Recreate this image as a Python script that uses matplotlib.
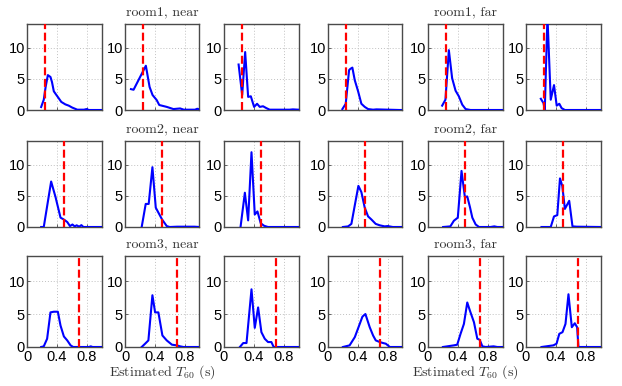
import matplotlib
matplotlib.use("Agg")
import matplotlib.pyplot as plt

plt.rcParams['mathtext.fontset'] = 'cm'
plt.rcParams['font.family'] = ['Liberation Sans', 'DejaVu Sans']

# true T60 per room (red dashed line)
T60_TRUE = [0.245, 0.5, 0.7]

# row titles: (text, column under which it is centred)
row_titles = [["room1, near", "room1, far"],
              ["room2, near", "room2, far"],
              ["room3, near", "room3, far"]]

# --- histogram curves: x (s), y (density) ---
# room1
r1_x = [[0.19, 0.225, 0.25, 0.28, 0.315, 0.335, 0.36, 0.395, 0.425, 0.46, 0.515, 0.56, 0.605, 0.675, 0.765, 0.8, 0.83, 1.0],
        [0.08, 0.115, 0.28, 0.33, 0.37, 0.425, 0.46, 0.56, 0.65, 0.74, 0.79, 0.94, 0.97, 1.0],
        [0.196, 0.244, 0.284, 0.324, 0.36, 0.404, 0.444, 0.48, 0.524, 0.569, 0.613, 0.88, 0.924, 1.0],
        [0.193, 0.238, 0.283, 0.30, 0.327, 0.359, 0.404, 0.448, 0.493, 0.538, 0.605, 0.65, 0.96, 1.0],
        [0.19, 0.234, 0.28, 0.324, 0.37, 0.414, 0.46, 0.505, 0.57, 1.0],
        [0.199, 0.235, 0.252, 0.288, 0.332, 0.376, 0.412, 0.447, 0.478, 0.522, 1.0]]
r1_y = [[0.48, 1.65, 3.7, 5.6, 5.3, 4.5, 3.0, 2.4, 1.9, 1.3, 0.9, 0.7, 0.4, 0.05, 0.05, 0.15, 0.0, 0.0],
        [3.35, 3.25, 7.1, 3.7, 2.4, 1.6, 0.8, 0.5, 0.15, 0.25, 0.05, 0.05, 0.2, 0.1],
        [7.3, 2.4, 9.3, 2.1, 2.2, 0.5, 1.0, 0.5, 0.6, 0.3, 0.05, 0.05, 0.1, 0.05],
        [0.15, 1.0, 6.4, 6.6, 6.8, 4.8, 3.0, 1.0, 0.5, 0.15, 0.05, 0.1, 0.0, 0.0],
        [0.7, 1.65, 9.6, 5.1, 3.1, 2.2, 0.85, 0.15, 0.0, 0.0],
        [1.8, 1.1, 0.0, 15.0, 1.65, 4.0, 0.7, 1.0, 0.3, 0.0, 0.0]]
# room2
r2_x = [[0.19, 0.225, 0.324, 0.383, 0.45, 0.495, 0.54, 0.577, 0.61, 0.64, 0.667, 0.70, 0.73, 0.757, 1.0],
        [0.224, 0.278, 0.318, 0.368, 0.413, 0.498, 0.56, 0.60, 0.70, 0.93, 1.0],
        [0.222, 0.28, 0.324, 0.369, 0.413, 0.449, 0.493, 0.538, 0.59, 1.0],
        [0.2, 0.27, 0.314, 0.363, 0.408, 0.448, 0.493, 0.538, 0.583, 0.64, 0.695, 0.76, 0.80, 0.87, 1.0],
        [0.203, 0.30, 0.347, 0.40, 0.45, 0.495, 0.527, 0.563, 0.595, 0.64, 0.685, 0.84, 0.89, 0.93, 1.0],
        [0.208, 0.332, 0.376, 0.42, 0.456, 0.487, 0.522, 0.58, 0.624, 0.68, 1.0]]
r2_y = [[0.0, 0.0, 7.3, 4.8, 1.5, 1.2, 0.8, 0.15, 0.4, 0.1, 0.27, 0.05, 0.3, 0.0, 0.0],
        [0.0, 3.7, 3.7, 9.6, 3.1, 1.2, 0.15, 0.0, 0.05, 0.05, 0.0],
        [0.0, 5.5, 1.06, 12.0, 2.0, 2.5, 0.6, 0.2, 0.0, 0.0],
        [0.0, 0.1, 0.5, 3.7, 6.6, 5.6, 3.1, 1.7, 1.2, 0.5, 0.27, 0.1, 0.15, 0.0, 0.0],
        [0.0, 0.1, 1.0, 1.5, 9.0, 4.8, 4.9, 3.2, 1.5, 0.4, 0.0, 0.0, 0.1, 0.0, 0.0],
        [0.0, 0.0, 1.7, 1.9, 7.8, 6.6, 2.9, 4.2, 0.1, 0.05, 0.0]]
# room3
r3_x = [[0.19, 0.225, 0.27, 0.315, 0.36, 0.414, 0.45, 0.495, 0.54, 0.585, 0.62, 0.83, 0.856, 0.88, 1.0],
        [0.224, 0.27, 0.314, 0.368, 0.404, 0.448, 0.502, 0.56, 0.63, 0.695, 0.74, 0.785, 1.0],
        [0.213, 0.258, 0.302, 0.369, 0.413, 0.458, 0.502, 0.547, 0.591, 0.636, 0.667, 1.0],
        [0.2, 0.29, 0.36, 0.426, 0.462, 0.502, 0.56, 0.605, 0.641, 0.695, 0.74, 0.776, 0.83, 1.0],
        [0.2, 0.347, 0.392, 0.437, 0.482, 0.527, 0.563, 0.617, 0.662, 0.694, 0.73, 0.775, 0.88, 0.93, 1.0],
        [0.208, 0.367, 0.41, 0.447, 0.49, 0.53, 0.57, 0.615, 0.655, 0.686, 0.704, 1.0]]
r3_y = [[0.0, 0.1, 1.25, 5.25, 5.35, 5.35, 3.25, 1.6, 1.0, 0.25, 0.0, 0.0, 0.1, 0.0, 0.0],
        [0.0, 0.5, 1.0, 7.85, 5.25, 5.25, 1.75, 1.0, 0.35, 0.25, 0.1, 0.0, 0.0],
        [0.0, 0.6, 0.6, 8.75, 2.9, 6.0, 2.25, 1.25, 0.75, 0.75, 0.0, 0.0],
        [0.0, 0.25, 1.5, 3.5, 4.6, 5.0, 3.0, 1.75, 1.0, 0.75, 0.6, 0.5, 0.0, 0.0],
        [0.0, 0.25, 0.35, 2.0, 3.5, 6.75, 5.5, 3.75, 1.25, 1.1, 0.1, 0.0, 0.1, 0.0, 0.0],
        [0.0, 0.25, 0.5, 2.0, 2.25, 3.5, 8.0, 3.0, 3.6, 3.0, 0.0, 0.0]]

all_x = [r1_x, r2_x, r3_x]
all_y = [r1_y, r2_y, r3_y]

X_TICKS = [0, 0.4, 0.8]
X_TICKLABELS = ["0", "0.4", "0.8"]
Y_TICKS = [0, 5, 10]
YMAX = 13.8

W, H = 622, 386
fig = plt.figure(figsize=(W / 100, H / 100), dpi=100)

# panel geometry in pixels
col_left = [27, 125, 224, 328, 428, 526]
col_w = 74.5
row_top = [24, 141, 256]
row_bot = [110, 227, 347]

frame_col = '#4a4a4a'
axes = []
for r in range(3):
    row = []
    for c in range(6):
        ax = fig.add_axes([col_left[c] / W, 1 - row_bot[r] / H,
                           col_w / W, (row_bot[r] - row_top[r]) / H])
        ax.plot(all_x[r][c], all_y[r][c], color='#0000ff', lw=1.5, zorder=3)
        ax.axvline(T60_TRUE[r], color='#ff0000', lw=1.6, ls=(0, (3.6, 1.6)), zorder=4)
        ax.set_xlim(0, 1)
        ax.set_ylim(0, YMAX)
        ax.set_xticks(X_TICKS)
        ax.set_yticks(Y_TICKS)
        ax.grid(True, color='#c0c0c0', ls=(0, (1, 2)), lw=0.7)
        ax.tick_params(direction='in', length=2, width=0.6, color=frame_col,
                       labelsize=10.5, pad=1.5, top=False, right=False)
        ax.tick_params(axis='x', pad=2.5)
        if r == 2:
            ax.set_xticklabels(X_TICKLABELS)
        else:
            ax.set_xticklabels([])
        for s in ax.spines.values():
            s.set_color(frame_col)
            s.set_linewidth(1.0)
        row.append(ax)
    axes.append(row)

# row titles above columns 2 and 5
for r in range(3):
    for k, c in enumerate([1, 4]):
        ax = axes[r][c]
        ax.set_title(row_titles[r][k], family='cmr10', fontsize=10,
                     color='#333333', pad=6)

# x labels
for c in [1, 4]:
    axes[2][c].set_xlabel(r'Estimated $T_{60}$ (s)', family='cmr10',
                          fontsize=10, color='#333333', labelpad=-1)

fig.savefig('out.png', dpi=100)
